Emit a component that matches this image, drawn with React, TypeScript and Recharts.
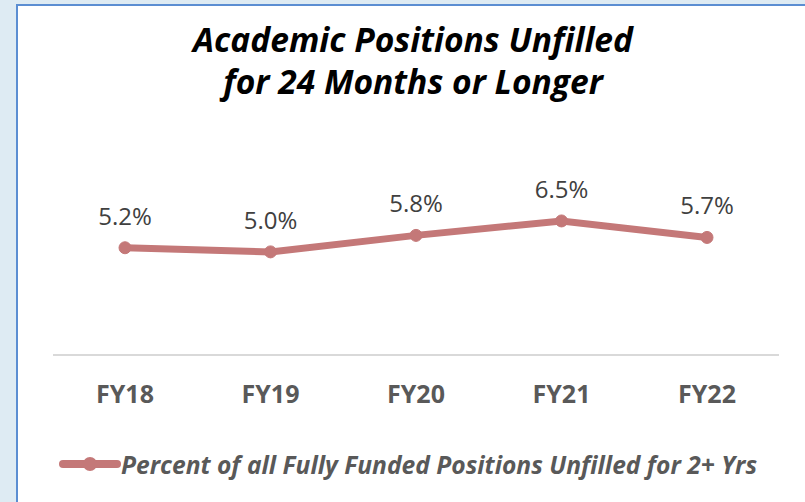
import { LineChart, Line, XAxis, YAxis, LabelList, Legend } from "recharts";

const years = ["FY18", "FY19", "FY20", "FY21", "FY22"];
const unfilledPct = [5.2, 5.0, 5.8, 6.5, 5.7];
const SERIES_NAME = "Percent of all Fully Funded Positions Unfilled for 2+ Yrs";

const LINE_COLOR = "#c47878";
const FONT = "'Open Sans', sans-serif";

const chartData = years.map((fy, i) => ({ fy, pct: unfilledPct[i] }));

function LegendContent() {
  return (
    <div style={{ display: "flex", alignItems: "center", height: 30, paddingLeft: 41 }}>
      <svg width={62} height={16}>
        <line x1={4} y1={8} x2={58} y2={8} stroke={LINE_COLOR} strokeWidth={8} strokeLinecap="round" />
        <circle cx={31} cy={8} r={7} fill={LINE_COLOR} />
      </svg>
      <span
        style={{
          fontFamily: FONT,
          fontWeight: 700,
          fontStyle: "italic",
          fontSize: 24.6,
          color: "#595959",
          whiteSpace: "nowrap",
        }}
      >
        {SERIES_NAME}
      </span>
    </div>
  );
}

export default function App() {
  return (
    <div
      style={{
        position: "fixed",
        top: 0,
        left: 0,
        width: 805,
        height: 502,
        background: "#deebf3",
        overflow: "hidden",
      }}
    >
      <div
        style={{
          position: "absolute",
          left: 16,
          top: 4,
          width: 800,
          height: 510,
          background: "#ffffff",
          borderLeft: "2px solid #5b8ed2",
          borderTop: "2px solid #5b8ed2",
        }}
      >
        <div
          style={{
            position: "absolute",
            left: 0,
            top: 12,
            width: 790,
            textAlign: "center",
            fontFamily: FONT,
            fontWeight: 700,
            fontStyle: "italic",
            fontSize: 33.6,
            lineHeight: "42px",
            color: "#000000",
          }}
        >
          Academic Positions Unfilled
          <br />
          for 24 Months or Longer
        </div>
        <div style={{ position: "absolute", left: 0, top: 0 }}>
          <LineChart
            width={788}
            height={497}
            data={chartData}
            margin={{ top: 184, right: 27, left: 35, bottom: 48 }}
          >
            <XAxis
              dataKey="fy"
              padding={{ left: 72, right: 72 }}
              axisLine={{ stroke: "#d9d9d9", strokeWidth: 2 }}
              tickLine={false}
              tickMargin={24}
              height={70}
              tick={{ fill: "#595959", fontFamily: FONT, fontWeight: 700, fontSize: 25 }}
            />
            <YAxis hide domain={[0, 8]} />
            <Legend verticalAlign="bottom" content={LegendContent} wrapperStyle={{ bottom: 24, left: 0, width: 788 }} />
            <Line
              type="linear"
              dataKey="pct"
              name={SERIES_NAME}
              stroke={LINE_COLOR}
              strokeWidth={7}
              dot={{ r: 6, fill: LINE_COLOR, stroke: LINE_COLOR, strokeWidth: 1 }}
              isAnimationActive={false}
            >
              <LabelList
                dataKey="pct"
                position="top"
                offset={23}
                formatter={(v: number) => `${v.toFixed(1)}%`}
                style={{ fill: "#404040", fontFamily: FONT, fontSize: 24 }}
              />
            </Line>
          </LineChart>
        </div>
      </div>
    </div>
  );
}
